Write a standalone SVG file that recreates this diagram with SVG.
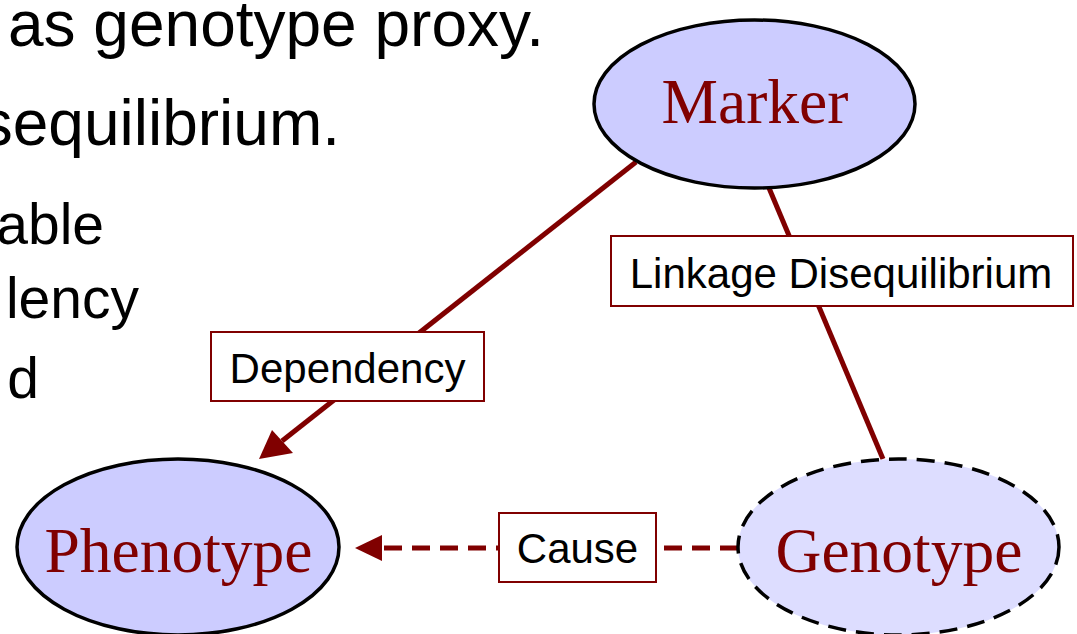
<svg xmlns="http://www.w3.org/2000/svg" width="1077" height="634" viewBox="0 0 1077 634">
<style>
.bullet{font-family:"Liberation Sans",Arial,sans-serif;fill:#000}
.node{stroke:#000;stroke-width:3.5}
.nlabel{font-family:"Liberation Serif","Times New Roman",serif;font-size:63.5px;fill:#800000;text-anchor:middle}
.edge{stroke:#800000;stroke-width:5;fill:none}
.lbox{fill:#fff;stroke:#800000;stroke-width:2}
.ltext{font-family:"Liberation Sans",Arial,sans-serif;font-size:42px;fill:#000;text-anchor:middle}
</style>
<defs>
<marker id="arr" viewBox="0 0 10 10" refX="10" refY="5" markerWidth="6" markerHeight="6" markerUnits="strokeWidth" orient="auto">
<path d="M0,0 L10,5 L0,10 z" fill="#800000"/>
</marker>
</defs>
<rect width="1077" height="634" fill="#fff"/>
<g id="bullets">
<text class="bullet" x="544" y="46" font-size="64" text-anchor="end">as genotype proxy.</text>
<text class="bullet" x="340" y="145" font-size="64" text-anchor="end">sequilibrium.</text>
<text class="bullet" x="104" y="244" font-size="57" text-anchor="end">able</text>
<text class="bullet" x="139" y="318" font-size="57" text-anchor="end">lency</text>
<text class="bullet" x="39" y="398" font-size="57" text-anchor="end">d</text>
</g>
<g id="connectors">
<line class="edge" x1="636" y1="162" x2="282" y2="441"/>
<path d="M259,459 L272,430 L293,453 z" fill="#800000"/>
<line class="edge" x1="769" y1="188" x2="883" y2="459"/>
<line class="edge" x1="738" y1="548" x2="382" y2="548" stroke-width="4" stroke-dasharray="18,10"/>
<path d="M355,548 L382,535 L382,561 z" fill="#800000"/>
<g id="label-dependency">
<rect class="lbox" x="211" y="332" width="273" height="69"/>
<text class="ltext" x="347.5" y="383">Dependency</text>
</g>
<g id="label-linkage">
<rect class="lbox" x="611" y="236" width="462" height="70"/>
<text class="ltext" x="841" y="288">Linkage Disequilibrium</text>
</g>
<g id="label-cause">
<rect class="lbox" x="499" y="513" width="157" height="69"/>
<text class="ltext" x="577.5" y="563">Cause</text>
</g>
</g>
<g id="node-marker">
<ellipse class="node" cx="754.5" cy="104" rx="160.5" ry="84" fill="#ccccff"/>
<text class="nlabel" x="755" y="123">Marker</text>
</g>
<g id="node-phenotype">
<ellipse class="node" cx="178" cy="547" rx="161" ry="88" fill="#ccccff"/>
<text class="nlabel" x="178.5" y="572">Phenotype</text>
</g>
<g id="node-genotype">
<ellipse class="node" cx="898.5" cy="547" rx="160.5" ry="88" fill="#ddddff" stroke-dasharray="18,10"/>
<text class="nlabel" x="899" y="572">Genotype</text>
</g>
</svg>
